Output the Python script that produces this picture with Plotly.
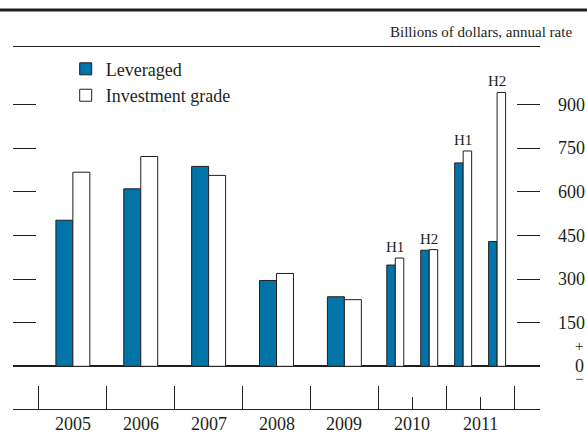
import plotly.graph_objects as go

# ── Données (milliards de dollars, rythme annuel) ──
years = [2005, 2006, 2007, 2008, 2009, 2010, 2010, 2011, 2011]
halves = ["", "", "", "", "", "H1", "H2", "H1", "H2"]
leveraged = [502, 610, 687, 295, 239, 348, 399, 699, 429]
inv_grade = [667, 721, 656, 319, 229, 372, 401, 740, 941]

year_labels = ["2005", "2006", "2007", "2008", "2009", "2010", "2011"]
y_ticks = [150, 300, 450, 600, 750, 900]

BLUE = "#0073a8"
INK = "#231f20"
FONT = "Liberation Serif, Times New Roman, serif"

# Position des barres : année entière au centre, semestres au quart / trois quarts
centers = [y + (0.5 if h == "" else (0.25 if h == "H1" else 0.75)) for y, h in zip(years, halves)]
widths = [0.25 if h == "" else 0.125 for h in halves]

x_lo, x_hi = 2004.618, 2012.382
y_lo, y_hi = -146.7, 1097.3

fig = go.Figure()
fig.add_trace(go.Bar(
    name="Leveraged", x=centers, y=leveraged, width=widths,
    offset=[-w for w in widths],
    marker=dict(color=BLUE, line=dict(color=INK, width=1)),
))
fig.add_trace(go.Bar(
    name="Investment grade", x=centers, y=inv_grade, width=widths,
    offset=[0 for w in widths],
    marker=dict(color="white", line=dict(color=INK, width=1)),
))

# Étiquettes H1 / H2 au-dessus des paires de barres
for c, h, a, b in zip(centers, halves, leveraged, inv_grade):
    if h:
        fig.add_annotation(x=c, y=max(a, b), text=h, showarrow=False,
                           xanchor="center", yanchor="bottom", yshift=1,
                           font=dict(size=15, color=INK, family=FONT))

# Années sous l'axe
for i, lab in enumerate(year_labels):
    fig.add_annotation(x=2005 + i + 0.5, xref="x", y=0, yref="paper", text=lab,
                       showarrow=False, xanchor="center", yanchor="middle", yshift=-15,
                       font=dict(size=18, color=INK, family=FONT))

# +/0/− à droite
for txt, dy, sz in [("+", 20, 15), ("0", 0, 18), ("\u2212", -13, 15)]:
    fig.add_annotation(x=1, xref="paper", y=0, yref="y", text=txt, showarrow=False,
                       xanchor="center", yanchor="middle", xshift=39, yshift=dy,
                       font=dict(size=sz, color=INK, family=FONT))

fig.add_annotation(x=1, xref="paper", y=1, yref="paper", text="Billions of dollars, annual rate",
                   showarrow=False, xanchor="right", yanchor="middle", xshift=34, yshift=15,
                   font=dict(size=15, color=INK, family=FONT))

# Filet épais en haut
fig.add_shape(type="line", xref="paper", yref="paper", x0=-0.03, x1=1.1, y0=1.102, y1=1.102,
              line=dict(color=INK, width=3))

fig.update_layout(
    width=587, height=435,
    margin=dict(l=13, r=47, t=47, b=26),
    paper_bgcolor="white", plot_bgcolor="white",
    barmode="overlay",
    font=dict(family=FONT, color=INK, size=18),
    showlegend=True,
    legend=dict(x=0.1, y=0.99, xanchor="left", yanchor="top", bgcolor="rgba(0,0,0,0)",
                font=dict(size=18, color=INK, family=FONT), traceorder="normal"),
    xaxis=dict(
        range=[x_lo, x_hi], showgrid=False, zeroline=False, automargin=False,
        showline=True, linecolor=INK, linewidth=1, mirror=True,
        ticks="inside", ticklen=23, tickcolor=INK, tickwidth=1,
        tickvals=[x_lo] + list(range(2005, 2013)) + [x_hi], showticklabels=False,
        minor=dict(tickvals=[2010.5, 2011.5], ticks="inside", ticklen=12, tickcolor=INK, tickwidth=1),
    ),
    yaxis=dict(
        range=[y_lo, y_hi], side="right", showgrid=False, showline=False, automargin=False,
        zeroline=True, zerolinecolor=INK, zerolinewidth=1.5,
        ticks="inside", ticklen=23, tickcolor=INK, tickwidth=1, mirror="ticks",
        tickvals=y_ticks, ticklabelstandoff=17,
        tickfont=dict(size=18, color=INK, family=FONT),
    ),
)

# la page a une marge de 8 px par défaut : on la retire pour caler la figure au coin
fig.write_html("out.html", config={"displayModeBar": False},
               post_script="document.body.style.margin='0';")
